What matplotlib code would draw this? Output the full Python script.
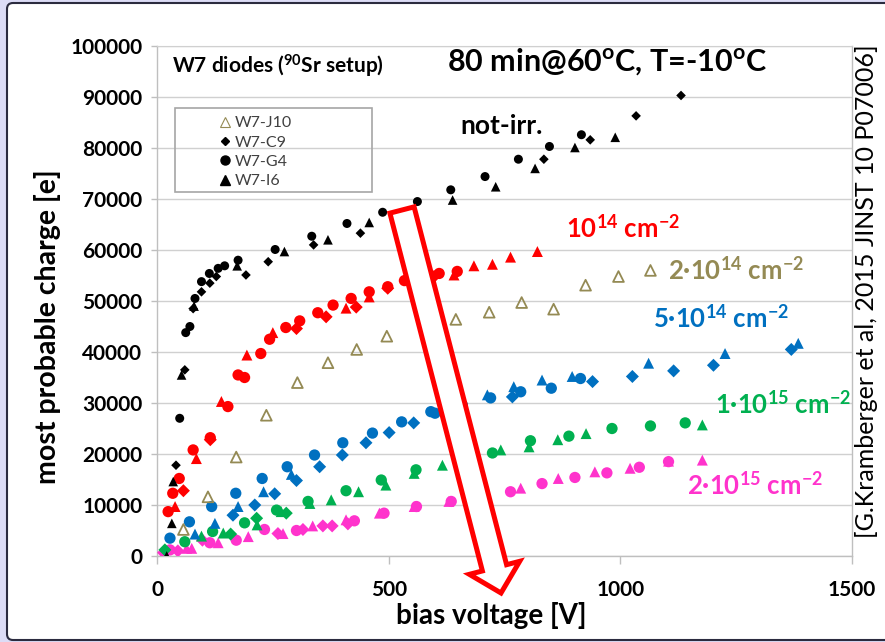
import matplotlib
matplotlib.use("Agg")
import matplotlib.pyplot as plt
from matplotlib.patches import FancyArrow, Rectangle, FancyBboxPatch
from matplotlib.lines import Line2D

plt.rcParams['font.family'] = ['Lato', 'DejaVu Sans']
plt.rcParams['mathtext.fontset'] = 'custom'
plt.rcParams['mathtext.rm'] = 'Lato'
plt.rcParams['mathtext.bf'] = 'Lato:bold'
plt.rcParams['mathtext.it'] = 'Lato:italic'

# ---------------- data ----------------
x_ticks = [0, 500, 1000, 1500]
y_ticks = [0, 10000, 20000, 30000, 40000, 50000, 60000, 70000, 80000, 90000, 100000]

# not irradiated (black)
v_n_G4 = [49, 62, 71, 82, 96, 113, 132, 146, 175, 255, 334, 410, 487, 562, 634, 708, 780, 847, 916]
q_n_G4 = [27000, 43800, 45000, 50500, 53800, 55400, 56400, 56900, 58000, 60100, 62700, 65200, 67400, 69500, 71800, 74400, 77800, 80300, 82600]
v_n_C9 = [41, 60, 78, 96, 114, 128, 192, 240, 338, 439, 835, 935, 1034, 1131]
q_n_C9 = [17800, 36500, 48500, 51800, 53500, 54800, 55100, 57700, 61000, 63300, 77800, 81600, 86300, 90300]
v_n_I6 = [21, 32, 35, 53, 80, 173, 275, 369, 458, 638, 731, 816, 902, 989]
q_n_I6 = [0, 6400, 14600, 35500, 49000, 56900, 59700, 62000, 65400, 69800, 72400, 76000, 80100, 82100]

# 1e14 (red)
v_a_G4 = [24, 34, 48, 78, 115, 153, 175, 189, 224, 243, 278, 308, 347, 380, 419, 458, 498, 534, 609, 648]
q_a_G4 = [8700, 12300, 15200, 20800, 23200, 29300, 35500, 35000, 39700, 42500, 44800, 46100, 47700, 49200, 50500, 51800, 52800, 54000, 55400, 55800]
v_a_C9 = [57, 115, 301, 365, 430, 498, 598]
q_a_C9 = [12800, 22800, 44600, 46900, 48800, 52500, 54800]
v_a_I6 = [39, 85, 139, 194, 250, 408, 458, 641, 684, 724, 763, 821]
q_a_I6 = [9700, 19100, 30300, 39400, 43800, 48600, 50800, 55100, 56900, 57200, 58600, 59700]

# 2e14 (W7-J10, open triangles)
v_b_J10 = [57, 110, 171, 236, 303, 369, 431, 496, 645, 717, 787, 856, 925, 996, 1065]
q_b_J10 = [5200, 11600, 19400, 27600, 34000, 37900, 40500, 43100, 46400, 47800, 49700, 48400, 53100, 54800, 56000]

# 5e14 (blue)
v_c_G4 = [28, 70, 118, 170, 227, 281, 340, 401, 465, 528, 591, 600, 659, 720, 785, 851, 914]
q_c_G4 = [3500, 6700, 9700, 12300, 15200, 17500, 19800, 22200, 24100, 26300, 28300, 28000, 29600, 31000, 32200, 32900, 34800]
v_c_C9 = [164, 211, 254, 301, 351, 400, 451, 501, 554, 767, 940, 1026, 1115, 1201, 1369]
q_c_C9 = [8000, 10000, 12200, 14800, 17500, 19800, 22200, 24200, 26100, 31200, 34200, 35200, 36300, 37400, 40500]
v_c_I6 = [82, 125, 175, 230, 290, 713, 770, 831, 896, 1061, 1226, 1384]
q_c_I6 = [4300, 6400, 9700, 12600, 16000, 31600, 33200, 34500, 35200, 37800, 39700, 41700]

# 1e15 (green)
v_d_G4 = [60, 120, 189, 258, 326, 408, 484, 559, 724, 806, 889, 982, 1065, 1140]
q_d_G4 = [2800, 4800, 6500, 9000, 10700, 12800, 14900, 16900, 20200, 22600, 23500, 25000, 25500, 26100]
v_d_C9 = [17, 159, 215, 279]
q_d_C9 = [1200, 4300, 7400, 8400]
v_d_I6 = [96, 143, 216, 268, 330, 376, 435, 494, 555, 616, 742, 803, 865, 926, 1177]
q_d_I6 = [3900, 4500, 6100, 8700, 10300, 11000, 12600, 13900, 16200, 17800, 20800, 21400, 22800, 24000, 25700]

# 2e15 (magenta)
v_e_G4 = [28, 114, 171, 232, 301, 426, 490, 560, 635, 763, 831, 902, 971, 1041, 1104]
q_e_G4 = [1200, 2600, 3100, 5200, 5000, 6900, 8400, 9700, 10700, 12600, 14200, 15400, 16300, 17400, 18500]
v_e_C9 = [14, 45, 98, 261, 315, 358, 378, 412]
q_e_C9 = [650, 1000, 3100, 4400, 5200, 5900, 5900, 6300]
v_e_I6 = [64, 75, 132, 197, 272, 336, 408, 480, 555, 630, 709, 785, 866, 945, 1021, 1104, 1177]
q_e_I6 = [1500, 1500, 2600, 3800, 4400, 5900, 7100, 8400, 9700, 10700, 12900, 13300, 15200, 16500, 17200, 18600, 18800]

c_black = 'black'
c_red = '#FF0000'
c_khaki = '#948A54'
c_blue = '#0070C0'
c_green = '#00B050'
c_mag = '#FF33CC'

W, H = 885, 642
fig = plt.figure(figsize=(W / 100, H / 100), dpi=100, facecolor='#DCDCF6')
bg = FancyBboxPatch((0.07, 0.02), 9.0, 6.37, boxstyle='round,pad=0,rounding_size=0.06',
                    transform=fig.dpi_scale_trans, facecolor='white', edgecolor='#2b2b3f',
                    linewidth=1.5, zorder=-5)
fig.patches.append(bg)

ax = fig.add_axes([157 / W, 1 - 556 / H, 695 / W, 510 / H])
ax.patch.set_visible(False)
ax.set_xlim(0, 1500)
ax.set_ylim(0, 100000)
ax.set_xticks(x_ticks)
ax.set_xticklabels([str(t) for t in x_ticks], fontweight='bold')
ax.set_yticks(y_ticks)
ax.set_yticklabels([str(t) for t in y_ticks], fontweight='bold')
ax.tick_params(axis='x', length=5.5, width=1, color='#BFBFBF', pad=12, labelsize=15)
ax.tick_params(axis='y', length=4.5, width=1, color='#BFBFBF', pad=6, labelsize=15)
ax.yaxis.grid(True, color='#D0D0D0', linewidth=1.0)
ax.set_axisbelow(True)
for s in ['left', 'bottom', 'right']:
    ax.spines[s].set_color('#BFBFBF')
    ax.spines[s].set_linewidth(1.0)
ax.spines['top'].set_color('#D0D0D0')

def irr(v, q, color, marker, s):
    ax.scatter(v, q, marker=marker, s=s, c=color, edgecolors='none', zorder=3)

S_O, S_D, S_T = 66, 44, 62
for col, g4, c9, i6 in [
    (c_mag, (v_e_G4, q_e_G4), (v_e_C9, q_e_C9), (v_e_I6, q_e_I6)),
    (c_green, (v_d_G4, q_d_G4), (v_d_C9, q_d_C9), (v_d_I6, q_d_I6)),
    (c_blue, (v_c_G4, q_c_G4), (v_c_C9, q_c_C9), (v_c_I6, q_c_I6)),
    (c_red, (v_a_G4, q_a_G4), (v_a_C9, q_a_C9), (v_a_I6, q_a_I6)),
]:
    irr(*g4, col, 'o', S_O)
    irr(*c9, col, 'D', S_D)
    irr(*i6, col, '^', S_T)

ax.scatter(v_b_J10, q_b_J10, marker='^', s=60, facecolors='none', edgecolors=c_khaki,
           linewidths=1.3, zorder=3)

ax.scatter(v_n_G4, q_n_G4, marker='o', s=42, c=c_black, edgecolors='none', zorder=4)
ax.scatter(v_n_C9, q_n_C9, marker='D', s=24, c=c_black, edgecolors='none', zorder=4)
ax.scatter(v_n_I6, q_n_I6, marker='^', s=48, c=c_black, edgecolors='none', zorder=4)

# legend
handles = [
    Line2D([], [], ls='none', marker='^', mfc='none', mec=c_khaki, ms=7, mew=0.8),
    Line2D([], [], ls='none', marker='D', color='black', ms=4.5),
    Line2D([], [], ls='none', marker='o', color='black', ms=6.5),
    Line2D([], [], ls='none', marker='^', color='black', ms=7),
]
labels = ['W7-J10', 'W7-C9', 'W7-G4', 'W7-I6']
ax.legend(handles, labels, loc='upper left', bbox_to_anchor=(0.080, 0.878), frameon=False,
          fontsize=11.5, handlelength=0.6, handletextpad=0.3, labelspacing=0.32,
          borderpad=0, labelcolor='#404040')
ax.add_patch(Rectangle((0.0259, 0.7137), 0.2835, 0.1647, transform=ax.transAxes, fill=False,
                       edgecolor='#A6A6A6', lw=1.2, zorder=5))

def ftext(px, py, s, **kw):
    fig.text(px / W, 1 - py / H, s, **kw)

ftext(172, 73, r"W7 diodes ($^{\mathbf{90}}$Sr setup)", fontsize=15, fontweight='bold', va='baseline')
ftext(447, 71, r"80 min@60$^{\mathbf{o}}$C, T=-10$^{\mathbf{o}}$C", fontsize=22, fontweight='bold', va='baseline')
ftext(460, 134, "not-irr.", fontsize=19, fontweight='bold', va='baseline', color='black')
ftext(566, 237, r"10$^{\mathbf{14}}$ cm$^{\mathbf{-2}}$", fontsize=18.5, fontweight='bold', va='baseline', color=c_red)
ftext(668, 279, r"2·10$^{\mathbf{14}}$ cm$^{\mathbf{-2}}$", fontsize=18.5, fontweight='bold', va='baseline', color=c_khaki)
ftext(653, 327, r"5·10$^{\mathbf{14}}$ cm$^{\mathbf{-2}}$", fontsize=18.5, fontweight='bold', va='baseline', color=c_blue)
ftext(715, 413, r"1·10$^{\mathbf{15}}$ cm$^{\mathbf{-2}}$", fontsize=18.5, fontweight='bold', va='baseline', color=c_green)
ftext(687, 494, r"2·10$^{\mathbf{15}}$ cm$^{\mathbf{-2}}$", fontsize=18.5, fontweight='bold', va='baseline', color=c_mag)

ftext(866, 291, "[G.Kramberger et al, 2015 JINST 10 P07006]", fontsize=18, rotation=90,
      ha='center', va='center')
ftext(48, 327, "most probable charge [e]", fontsize=20.5, fontweight='bold', rotation=90,
      ha='center', va='center')
ftext(491, 624, "bias voltage [V]", fontsize=20, fontweight='bold', ha='center', va='baseline')

arrow = FancyArrow(4.02, 4.32, 0.99, -3.83, width=0.25, head_width=0.52, head_length=0.26,
                   length_includes_head=True, transform=fig.dpi_scale_trans,
                   facecolor='white', edgecolor='#FF0000', linewidth=3.6, zorder=10)
fig.add_artist(arrow)

fig.savefig('out.png', dpi=100, facecolor=fig.get_facecolor())
